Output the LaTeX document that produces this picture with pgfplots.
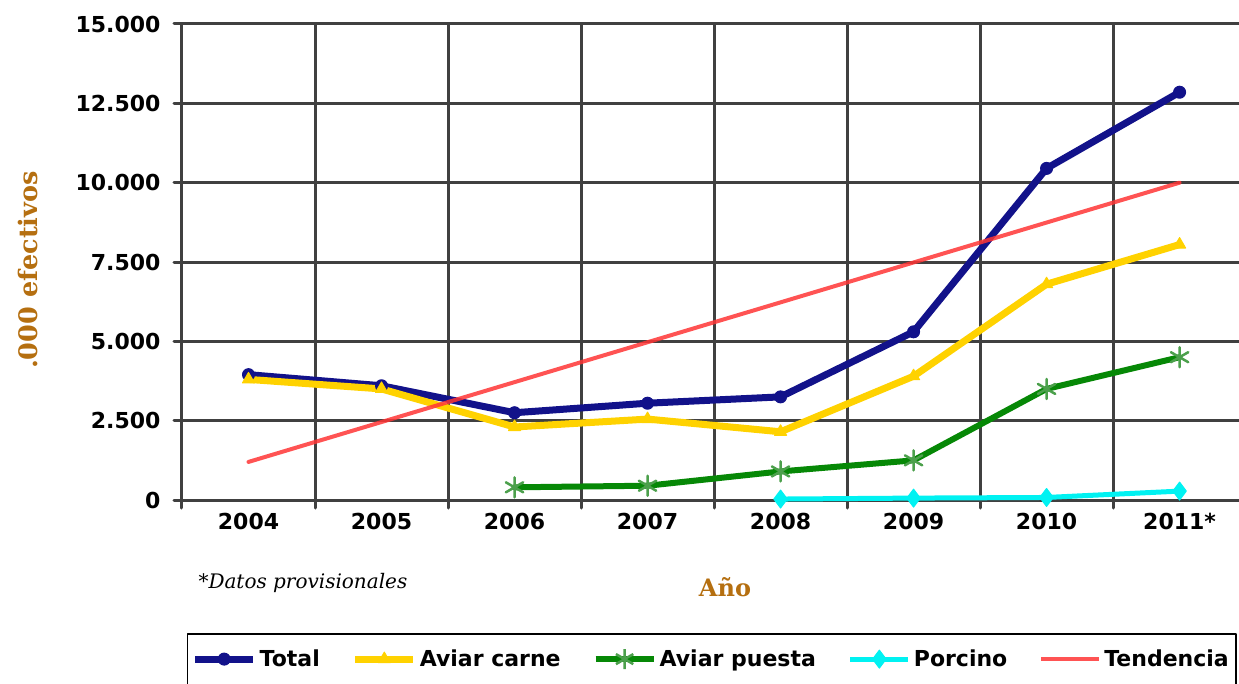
\documentclass[border=0pt]{standalone}
\usepackage{pgfplots}
\pgfplotsset{compat=1.18}
\usepackage{fontspec}
\setmainfont{DejaVu Sans}
\newfontfamily\serifb{DejaVu Serif}
\definecolor{gridc}{HTML}{404040}
\definecolor{cTotal}{HTML}{12128A}
\definecolor{cCarne}{HTML}{FFD200}
\definecolor{cPuesta}{HTML}{068806}
\definecolor{cPuestaM}{HTML}{4CA04C}
\definecolor{cPorc}{HTML}{00F2F2}
\definecolor{cTend}{HTML}{FF3535}
\definecolor{labc}{HTML}{B56F10}
\begin{document}
\begin{tikzpicture}
\useasboundingbox (-182pt,-183pt) rectangle (1057pt,500pt);
\begin{axis}[
  scale only axis, width=1057pt, height=476pt,
  xmin=-0.5, xmax=7.447, ymin=0, ymax=15000,
  clip=false,
  scaled y ticks=false,
  axis line style={draw=none},
  xtick={0,...,7},
  xticklabels={2004,2005,2006,2007,2008,2009,2010,2011*},
  minor xtick={-0.5,0.5,1.5,2.5,3.5,4.5,5.5,6.5},
  xminorgrids=true, ymajorgrids=true, xmajorgrids=false,
  ytick={0,2500,5000,7500,10000,12500,15000},
  yticklabels={0,2.500,5.000,7.500,10.000,12.500,15.000},
  xtick pos=bottom, ytick pos=left,
  tick align=outside,
  major tick length=8pt, minor tick length=8pt,
  tick style={gridc, line width=3pt},
  major x tick style={draw=none},
  grid style={gridc, line width=3pt},
  minor grid style={gridc, line width=3pt},
  ticklabel style={font=\fontsize{22}{26}\selectfont\bfseries, text=black},
  yticklabel style={xshift=-10pt},
  xticklabel style={yshift=-2pt},
  xlabel={Año}, ylabel={.000 efectivos},
  every axis x label/.style={at={(axis description cs:0.5137,-0.1828)}, anchor=center, font=\serifb\bfseries\fontsize{24}{28}\selectfont, text=labc},
  every axis y label/.style={at={(axis description cs:-0.1456,0.483)}, rotate=90, anchor=center, font=\serifb\bfseries\fontsize{25.5}{28}\selectfont, text=labc},
  legend columns=5,
  legend style={at={(axis description cs:0.0047,-0.2794)}, anchor=north west,
    draw=black, line width=1.5pt, inner xsep=4pt, inner ysep=13pt,
    font=\fontsize{22}{26}\selectfont\bfseries,
    nodes={inner sep=3pt, text depth=14pt},
    /tikz/every even column/.append style={column sep=29pt}},
  legend cell align=left,
  legend image code/.code={\draw[mark repeat=2,mark phase=2,yshift=6pt,#1] plot coordinates {(0pt,0pt) (29pt,0pt) (58pt,0pt)};},
  line join=round, line cap=round,
]
\addplot[cTotal, line width=7pt, mark=*, mark size=6pt, mark options={line width=1pt, fill=cTotal}]
  coordinates {(0,3950) (1,3600) (2,2750) (3,3050) (4,3250) (5,5300) (6,10450) (7,12850)};
\addlegendentry{Total}
\addplot[cCarne, line width=7pt, mark=triangle*, mark size=7pt, mark options={line width=1pt, fill=cCarne}]
  coordinates {(0,3800) (1,3500) (2,2300) (3,2550) (4,2150) (5,3900) (6,6800) (7,8050)};
\addlegendentry{Aviar carne}
\addplot[cPuesta, line width=6pt, mark=asterisk, mark size=10pt, mark options={line width=2.5pt, draw=cPuestaM}]
  coordinates {(2,400) (3,450) (4,900) (5,1250) (6,3500) (7,4500)};
\addlegendentry{Aviar puesta}
\addplot[cPorc, line width=5pt, mark=diamond*, mark size=9pt, mark options={line width=1pt, fill=cPorc}]
  coordinates {(4,30) (5,60) (6,80) (7,280)};
\addlegendentry{Porcino}
\addplot[cTend, line width=4pt, opacity=0.85]
  coordinates {(0,1200) (7,10000)};
\addlegendentry{Tendencia}
\node[anchor=west, font=\serifb\itshape\fontsize{20}{24}\selectfont] at (axis description cs:0.0123,-0.1744) {*Datos provisionales};
\end{axis}
\end{tikzpicture}
\end{document}
